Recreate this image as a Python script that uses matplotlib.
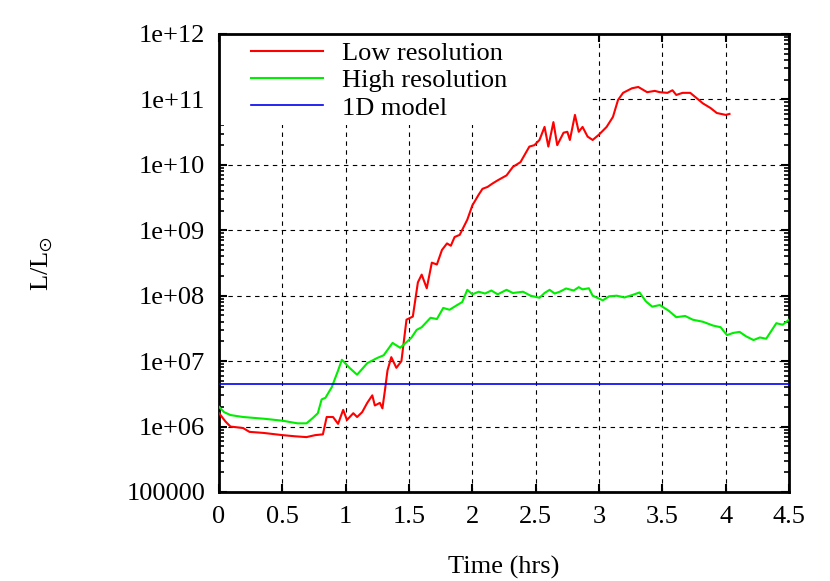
import numpy as np
import matplotlib
matplotlib.use('Agg')
import matplotlib.pyplot as plt
from matplotlib.ticker import FixedLocator, LogLocator, NullFormatter, FuncFormatter
from matplotlib.patches import Rectangle

# Low resolution run: time (hrs) and luminosity (L/Lsun)
low_t = [0.0, 0.05, 0.09, 0.19, 0.24, 0.35, 0.5, 0.6, 0.69, 0.76, 0.82, 0.85, 0.9, 0.94,
         0.98, 1.01, 1.06, 1.09, 1.13, 1.17, 1.21, 1.23, 1.27, 1.29, 1.31, 1.33, 1.36, 1.40,
         1.44, 1.48, 1.53, 1.57, 1.60, 1.64, 1.68, 1.72, 1.76, 1.80, 1.83, 1.86, 1.90, 1.96,
         2.0, 2.05, 2.08, 2.12, 2.16, 2.2, 2.27, 2.32, 2.38, 2.45, 2.49, 2.53, 2.57, 2.60,
         2.64, 2.67, 2.72, 2.75, 2.77, 2.81, 2.84, 2.87, 2.91, 2.95, 3.0, 3.06, 3.11, 3.15,
         3.19, 3.26, 3.31, 3.38, 3.44, 3.48, 3.54, 3.58, 3.61, 3.66, 3.72, 3.77, 3.82, 3.88,
         3.93, 4.0, 4.03]
low_L = [1.6e6, 1.2e6, 1.0e6, 9.5e5, 8.3e5, 8.0e5, 7.4e5, 7.1e5, 6.9e5, 7.4e5, 7.6e5, 1.4e6,
         1.4e6, 1.1e6, 1.8e6, 1.26e6, 1.6e6, 1.4e6, 1.66e6, 2.3e6, 3.0e6, 2.1e6, 2.3e6, 1.9e6,
         3.6e6, 7.2e6, 1.15e7, 7.9e6, 1.0e7, 4.3e7, 4.8e7, 1.6e8, 2.1e8, 1.3e8, 3.2e8, 3.0e8,
         5.0e8, 6.3e8, 5.8e8, 7.9e8, 8.5e8, 1.45e9, 2.4e9, 3.5e9, 4.3e9, 4.6e9, 5.2e9, 5.8e9,
         6.9e9, 9.3e9, 1.1e10, 1.9e10, 2.0e10, 2.4e10, 3.8e10, 1.9e10, 4.5e10, 2.0e10, 3.1e10,
         3.2e10, 2.4e10, 5.8e10, 3.2e10, 3.8e10, 2.7e10, 2.4e10, 2.9e10, 3.8e10, 5.4e10, 9.8e10,
         1.26e11, 1.48e11, 1.55e11, 1.29e11, 1.35e11, 1.29e11, 1.26e11, 1.38e11, 1.17e11,
         1.26e11, 1.26e11, 1.05e11, 8.7e10, 7.4e10, 6.2e10, 5.8e10, 6.0e10]

# High resolution run
high_t = [0.0, 0.04, 0.09, 0.19, 0.35, 0.5, 0.62, 0.69, 0.74, 0.78, 0.81, 0.84, 0.89, 0.94,
          0.97, 1.0, 1.03, 1.09, 1.17, 1.25, 1.3, 1.37, 1.43, 1.48, 1.52, 1.56, 1.6, 1.67,
          1.72, 1.77, 1.82, 1.88, 1.92, 1.96, 2.0, 2.05, 2.1, 2.15, 2.2, 2.27, 2.32, 2.4,
          2.46, 2.53, 2.57, 2.61, 2.65, 2.69, 2.74, 2.8, 2.84, 2.87, 2.92, 2.95, 3.03, 3.08,
          3.14, 3.2, 3.26, 3.32, 3.37, 3.42, 3.48, 3.55, 3.61, 3.68, 3.74, 3.82, 3.9, 3.96,
          4.01, 4.06, 4.11, 4.16, 4.22, 4.27, 4.32, 4.4, 4.45, 4.5]
high_L = [2.0e6, 1.66e6, 1.5e6, 1.4e6, 1.32e6, 1.23e6, 1.12e6, 1.12e6, 1.35e6, 1.6e6, 2.6e6,
          2.75e6, 4.0e6, 7.2e6, 1.05e7, 9.1e6, 7.9e6, 6.2e6, 9.3e6, 1.12e7, 1.23e7, 1.9e7,
          1.6e7, 1.95e7, 2.3e7, 3.0e7, 3.3e7, 4.6e7, 4.4e7, 6.5e7, 6.1e7, 7.2e7, 8.0e7,
          1.23e8, 1.05e8, 1.15e8, 1.08e8, 1.2e8, 1.05e8, 1.23e8, 1.1e8, 1.15e8, 1.0e8, 9.3e7,
          1.1e8, 1.23e8, 1.08e8, 1.15e8, 1.29e8, 1.2e8, 1.35e8, 1.25e8, 1.3e8, 1.0e8, 8.5e7,
          9.8e7, 1.0e8, 9.4e7, 1.02e8, 1.12e8, 8.2e7, 6.8e7, 7.2e7, 5.9e7, 4.7e7, 4.9e7,
          4.3e7, 4.0e7, 3.5e7, 3.3e7, 2.5e7, 2.7e7, 2.8e7, 2.4e7, 2.1e7, 2.3e7, 2.2e7, 3.8e7,
          3.6e7, 4.3e7]

# 1D model (constant)
model_t = [0.0, 4.5]
model_L = [4.4e6, 4.4e6]

plt.rcParams['font.family'] = ['Liberation Serif', 'DejaVu Serif']
plt.rcParams['mathtext.fontset'] = 'stix'

fig = plt.figure(figsize=(8.3, 5.81), dpi=100)
ax = fig.add_axes([0.2639, 0.1532, 0.6867, 0.7883])

ax.plot(low_t, low_L, color='#ff0000', lw=1.5, label='Low resolution', zorder=3)
ax.plot(high_t, high_L, color='#00ee00', lw=1.5, label='High resolution', zorder=3)
ax.plot(model_t, model_L, color='#0000ee', lw=1.2, label='1D model', zorder=3)

ax.set_yscale('log')
ax.set_xlim(0, 4.5)
ax.set_ylim(1e5, 1e12)

ax.xaxis.set_major_locator(FixedLocator(np.arange(0, 4.51, 0.5)))
ax.xaxis.set_major_formatter(FuncFormatter(lambda v, p: ('%g' % v)))
ax.yaxis.set_major_locator(LogLocator(base=10, numticks=20))
ax.yaxis.set_minor_locator(LogLocator(base=10, subs=np.arange(2, 10), numticks=20))
ax.yaxis.set_minor_formatter(NullFormatter())

def ylab(v, p):
    e = int(round(np.log10(v)))
    if e < 6:
        return '%d' % round(v)
    return '1e+%02d' % e

ax.yaxis.set_major_formatter(FuncFormatter(ylab))

ax.tick_params(which='both', direction='in', top=True, right=True, labelsize=19, pad=10)
ax.tick_params(which='major', length=6, width=1.5)
ax.tick_params(which='minor', length=3.5, width=1.2)
for s in ax.spines.values():
    s.set_linewidth(2.0)

ax.set_axisbelow(True)
ax.grid(True, which='major', color='black', lw=0.8, linestyle=(0, (4, 4)))

# white key area hides the grid behind the legend
ax.add_patch(Rectangle((0, 0.801), 0.654, 0.199, transform=ax.transAxes,
                       facecolor='white', edgecolor='none', zorder=1))

ax.legend(loc='upper left', bbox_to_anchor=(0.037, 1.007), frameon=False, fontsize=19,
          handlelength=2.75, handletextpad=0.7, labelspacing=0.15, borderaxespad=0)

ax.set_xlabel('Time (hrs)', fontsize=19, labelpad=20)
ax.set_ylabel(r'L/L$_{\odot}$', fontsize=19, labelpad=51)

fig.savefig('out.png', dpi=100)
